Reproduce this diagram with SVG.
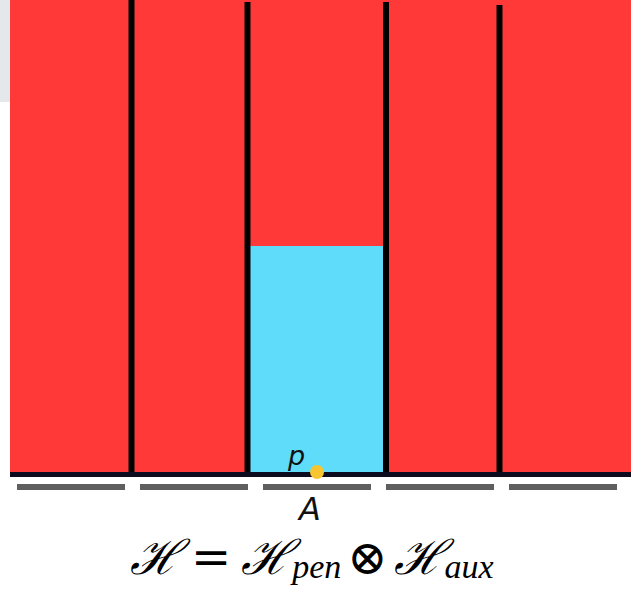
<svg xmlns="http://www.w3.org/2000/svg" width="631" height="589" viewBox="0 0 631 589">
<style>
.wall{stroke:#000;stroke-width:6;}
.bar{fill:#5f5f5f;}
.lbl{font-family:"DejaVu Sans","Liberation Sans",sans-serif;font-style:italic;fill:#111;}
.f{font-family:"DejaVu Serif","Liberation Serif",serif;fill:#000;}
.sub{font-family:"Liberation Serif","DejaVu Serif",serif;font-style:italic;}
</style>
<rect x="0" y="0" width="631" height="589" fill="#fff"/>
<rect x="0" y="0" width="12" height="102" fill="#e4e8ea"/>
<g id="background">
<rect x="10" y="0" width="621" height="474" fill="#ff3838"/>
</g>
<g id="well">
<rect x="249" y="246" width="136" height="228" fill="#60dcfb"/>
</g>
<g id="walls">
<line class="wall" x1="131.5" y1="0" x2="131.5" y2="474"/>
<line class="wall" x1="247.5" y1="2" x2="247.5" y2="474"/>
<line class="wall" x1="386" y1="2" x2="386" y2="474"/>
<line class="wall" x1="499.5" y1="5" x2="499.5" y2="474"/>
</g>
<g id="baseline">
<rect x="10" y="472" width="621" height="5" fill="#0c0c1e"/>
</g>
<g id="bars">
<rect class="bar" x="17" y="484" width="108" height="6"/>
<rect class="bar" x="140" y="484" width="108" height="6"/>
<rect class="bar" x="263" y="484" width="108" height="6"/>
<rect class="bar" x="386" y="484" width="108" height="6"/>
<rect class="bar" x="509" y="484" width="108" height="6"/>
</g>
<g id="point-p">
<circle cx="317" cy="472" r="7" fill="#f7c531"/>
<text class="lbl" x="288" y="465" font-size="27">p</text>
</g>
<g id="label-A">
<text class="lbl" x="299" y="520" font-size="32">A</text>
</g>
<g id="formula">
<text class="f" x="130" y="574" font-size="48"><tspan font-style="italic">ℋ</tspan><tspan dx="10">=</tspan><tspan dx="10" font-style="italic">ℋ</tspan><tspan class="sub" font-size="34" dy="4">pen</tspan><tspan dy="-4" dx="6">⊗</tspan><tspan dx="6" font-style="italic">ℋ</tspan><tspan class="sub" font-size="34" dy="4">aux</tspan></text>
</g>
</svg>
